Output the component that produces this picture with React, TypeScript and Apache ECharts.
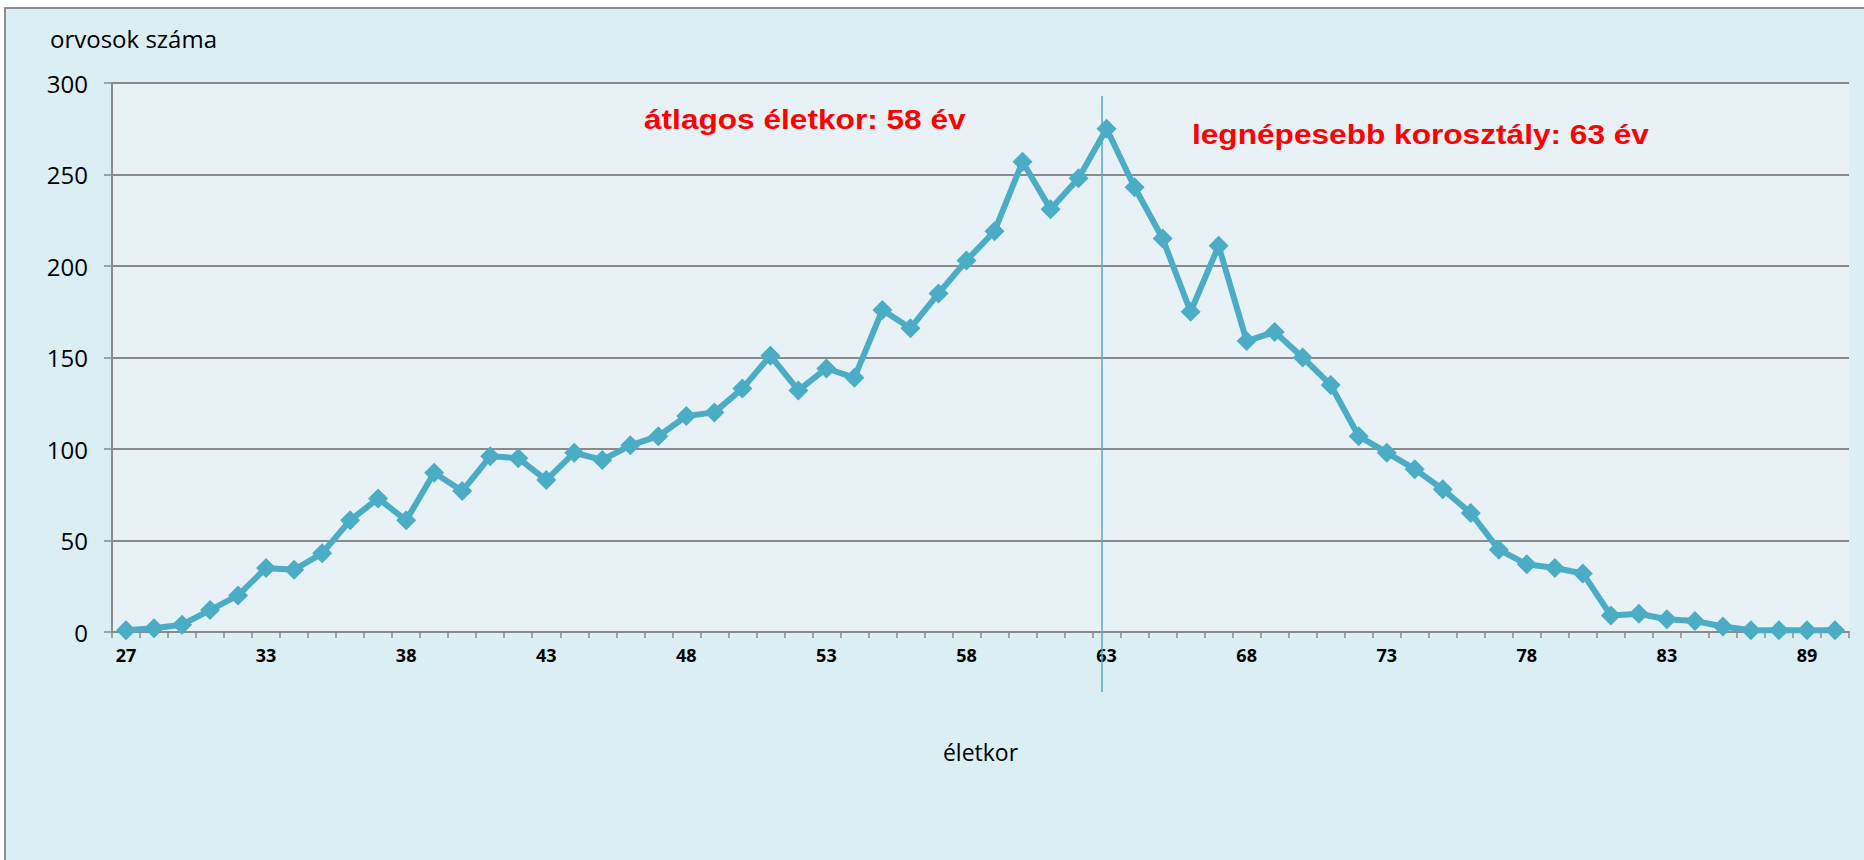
import React, { useEffect, useRef } from "react";
import * as echarts from "echarts";

const ages: string[] = [
  "27", "29", "30", "31", "32", "33", "34", "35", "36", "37",
  "38", "39", "40", "41", "42", "43", "44", "45", "46", "47",
  "48", "49", "50", "51", "52", "53", "54", "55", "56", "57",
  "58", "59", "60", "61", "62", "63", "64", "65", "66", "67",
  "68", "69", "70", "71", "72", "73", "74", "75", "76", "77",
  "78", "79", "80", "81", "82", "83", "84", "85", "86", "87",
  "89", "90",
];

const doctors: number[] = [
  1, 2, 4, 12, 20, 35, 34, 43, 61, 73,
  61, 87, 77, 96, 95, 83, 98, 94, 102, 107,
  118, 120, 133, 151, 132, 144, 139, 176, 166, 185,
  203, 219, 257, 231, 248, 275, 243, 215, 175, 211,
  159, 164, 150, 135, 107, 98, 89, 78, 65, 45,
  37, 35, 32, 9, 10, 7, 6, 3, 1, 1,
  1, 1,
];

const yAxisTitle = "orvosok száma";
const xAxisTitle = "életkor";
const noteAverage = "átlagos életkor: 58 év";
const noteMode = "legnépesebb korosztály: 63 év";

const LINE = "#4BACC6";
const GRAY = "#8A8A8A";

export default function App() {
  const ref = useRef<HTMLDivElement>(null);
  useEffect(() => {
    if (!ref.current) return;
    const chart = echarts.init(ref.current, undefined, { renderer: "svg" });
    chart.setOption({
      animation: false,
      backgroundColor: "#ffffff",
      grid: {
        left: 112,
        top: 83,
        right: 15,
        bottom: 228,
        show: true,
        backgroundColor: "#E8F1F5",
        borderWidth: 0,
      },
      xAxis: {
        type: "category",
        data: ages,
        boundaryGap: true,
        name: xAxisTitle,
        nameLocation: "middle",
        nameGap: 108,
        nameTextStyle: { fontFamily: "Open Sans", fontSize: 23, color: "#000" },
        axisLine: { show: true, lineStyle: { color: GRAY, width: 2 } },
        axisTick: { show: true, interval: 0, length: 6, lineStyle: { color: GRAY, width: 1.5 } },
        axisLabel: {
          interval: 4,
          fontFamily: "Open Sans",
          fontWeight: "bold",
          fontSize: 18,
          color: "#000",
          margin: 14,
        },
        splitLine: { show: false },
      },
      yAxis: {
        type: "value",
        min: 0,
        max: 300,
        interval: 50,
        axisLine: { show: true, lineStyle: { color: GRAY, width: 2 } },
        axisTick: { show: true, length: 8, lineStyle: { color: GRAY, width: 1.5 } },
        axisLabel: {
          fontFamily: "Open Sans",
          fontSize: 24,
          color: "#000",
          margin: 24,
        },
        splitLine: { show: true, lineStyle: { color: GRAY, width: 2 } },
      },
      series: [
        {
          type: "line",
          data: doctors,
          symbol: "diamond",
          symbolSize: 20,
          showSymbol: true,
          showAllSymbol: true,
          lineStyle: { color: LINE, width: 6 },
          itemStyle: { color: LINE },
          z: 5,
        },
      ],
      graphic: [
        {
          type: "rect",
          z: -100,
          silent: true,
          shape: { x: 5, y: 8, width: 1900, height: 900 },
          style: { fill: "#DBEEF4", stroke: "#8E8E8E", lineWidth: 2 },
        },
        {
          type: "text",
          x: 50,
          y: 38,
          z: 10,
          style: {
            text: yAxisTitle,
            fontFamily: "Open Sans",
            fontSize: 24,
            fill: "#000",
            textAlign: "left",
            textVerticalAlign: "middle",
          },
        },
        {
          type: "line",
          z: 10,
          shape: { x1: 1102, y1: 96, x2: 1102, y2: 692 },
          style: { stroke: LINE, lineWidth: 1.5 },
        },
        {
          type: "text",
          x: 644,
          y: 119,
          scaleX: 1.13,
          z: 10,
          style: {
            text: noteAverage,
            fontFamily: "Liberation Sans",
            fontWeight: "bold",
            fontSize: 28,
            fill: "#FF0000",
            textAlign: "left",
            textVerticalAlign: "middle",
          },
        },
        {
          type: "text",
          x: 1192,
          y: 134,
          scaleX: 1.13,
          z: 10,
          style: {
            text: noteMode,
            fontFamily: "Liberation Sans",
            fontWeight: "bold",
            fontSize: 28,
            fill: "#FF0000",
            textAlign: "left",
            textVerticalAlign: "middle",
          },
        },
      ],
    });
    return () => chart.dispose();
  }, []);
  return (
    <div
      ref={ref}
      style={{ position: "fixed", left: 0, top: 0, width: 1864, height: 860 }}
    />
  );
}
